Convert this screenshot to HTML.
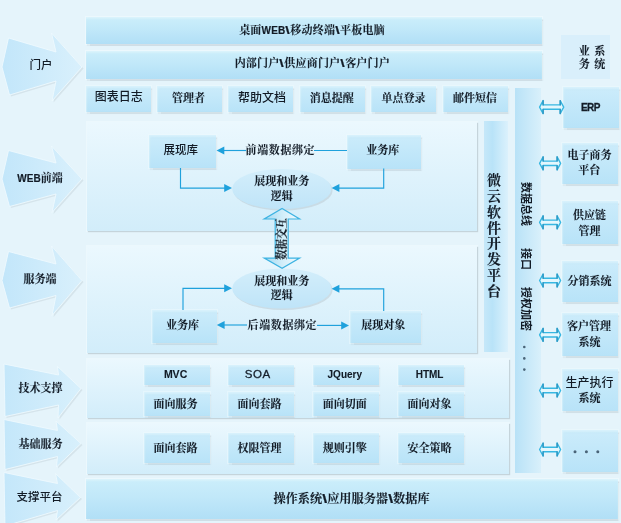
<!DOCTYPE html>
<html lang="zh"><head><meta charset="utf-8"><title>架构图</title><style>
html,body{margin:0;padding:0}
body{width:621px;height:523px;overflow:hidden;position:relative;background:#e5f4fb;
 font-family:"Liberation Serif","Noto Serif CJK SC",serif;font-weight:bold;font-size:11px;color:#121b26;-webkit-text-stroke:.1px #121b26}
.a{position:absolute;box-sizing:border-box}
.bar{background:linear-gradient(#cceefb,#c1e8f9 45%,#b1dff6);box-shadow:1px 1.5px 1px rgba(180,196,204,.45),0 0 0 1px rgba(240,250,254,.7),inset 0 1.5px 1.5px rgba(232,249,254,.6)}
.bx{background:linear-gradient(#ccecfb,#b8e3f8);box-shadow:1px 1.5px 1px rgba(175,192,200,.38),0 0 0 1px rgba(238,249,254,.5),inset 1px 1.5px 1.5px rgba(232,249,254,.5);text-align:center;white-space:nowrap}
.pn{background:linear-gradient(#ebf8fe,#d2edfa);box-shadow:1px 1px 1px rgba(180,196,204,.7),0 0 0 1px rgba(240,250,254,.7)}
.t{position:absolute;white-space:nowrap;text-align:center}
.ls{letter-spacing:.2px}
.b7{font-weight:bold}
.bs{display:inline-block;font-family:"Liberation Sans","Noto Sans CJK SC",sans-serif;font-weight:bold;transform:scaleX(1.45);margin:0 .8px;-webkit-text-stroke:.2px #1c2733}
.s{font-family:"Liberation Sans","Noto Sans CJK SC",sans-serif;font-weight:500;font-size:12px;-webkit-text-stroke:0}
.sb{font-family:"Liberation Sans","Noto Sans CJK SC",sans-serif;font-weight:bold}
svg{position:absolute;left:0;top:0}
#w{position:absolute;left:0;top:0;width:621px;height:523px;will-change:transform}
</style></head><body><div id="w">
<div class="a bar" style="left:85.5px;top:16.5px;width:456.0px;height:27.5px;line-height:27.5px;"></div>
<div class="a bar" style="left:85.5px;top:51px;width:456.0px;height:27.5px;line-height:27.5px;"></div>
<div class="t ls b7" style="left:212px;width:200px;top:20px;height:20px;line-height:20px;">桌面<span class="sb" style="font-size:10px;-webkit-text-stroke:.2px #1c2733">WEB</span><span class="bs">\</span>移动终端<span class="bs">\</span>平板电脑</div>
<div class="t ls b7" style="left:212.3px;width:200px;top:53.2px;height:20px;line-height:20px;">内部门户<span class="bs">\</span>供应商门户<span class="bs">\</span>客户门户</div>
<div class="a bx" style="left:85.7px;top:86.3px;width:64.99999999999999px;height:25.700000000000003px;line-height:25.700000000000003px;text-indent:1.0px;"><span class="s" style="position:relative;top:-1px">图表日志</span></div>
<div class="a bx" style="left:157.1px;top:86.3px;width:65.0px;height:25.700000000000003px;line-height:25.700000000000003px;text-indent:-2px;"><span class="b7" style="position:relative;top:-0.5px">管理者</span></div>
<div class="a bx" style="left:228.4px;top:86.3px;width:64.99999999999997px;height:25.700000000000003px;line-height:25.700000000000003px;text-indent:2px;"><span class="s" style="position:relative;top:0px">帮助文档</span></div>
<div class="a bx" style="left:299.8px;top:86.3px;width:65.0px;height:25.700000000000003px;line-height:25.700000000000003px;text-indent:-1.0px;"><span class="" style="position:relative;top:-0.5px">消息提醒</span></div>
<div class="a bx" style="left:371.1px;top:86.3px;width:65.0px;height:25.700000000000003px;line-height:25.700000000000003px;text-indent:0px;"><span class="" style="position:relative;top:-0.5px">单点登录</span></div>
<div class="a bx" style="left:442.5px;top:86.3px;width:65.0px;height:25.700000000000003px;line-height:25.700000000000003px;text-indent:0px;"><span class="" style="position:relative;top:-0.5px">邮件短信</span></div>
<div class="a pn" style="left:87px;top:122px;width:390px;height:109px;line-height:109px;"></div>
<div class="a pn" style="left:87px;top:246px;width:390px;height:107px;line-height:107px;"></div>
<div class="a a" style="left:484px;top:120.5px;width:24px;height:231.5px;line-height:231.5px;background:linear-gradient(90deg,#c6e8f9,#b9e3f8 35%,#dbf1fc);"></div>
<div class="a a" style="left:514.5px;top:87.5px;width:26.0px;height:385.5px;line-height:385.5px;background:linear-gradient(90deg,#b8e2f7,#d9f0fb);"></div>
<div class="a pn" style="left:87px;top:359px;width:421.5px;height:59px;line-height:59px;"></div>
<div class="a pn" style="left:87px;top:422.5px;width:421.5px;height:51.5px;line-height:51.5px;"></div>
<div class="a bar" style="left:85.5px;top:479.3px;width:532.5px;height:39.69999999999999px;line-height:39.69999999999999px;"></div>
<div class="t b7" style="left:251.5px;width:200px;top:489.3px;height:20px;line-height:20px;font-size:12.2px;">操作系统<span class="bs">\</span>应用服务器<span class="bs">\</span>数据库</div>
<div class="a bx" style="left:148.5px;top:134.5px;width:67.5px;height:33.5px;line-height:33.5px;text-indent:-3px;"><span class="s" style="position:relative;top:-0.5px"><span style="font-size:11.5px">展现库</span></span></div>
<div class="a bx" style="left:347px;top:134.5px;width:73.5px;height:34.0px;line-height:34.0px;text-indent:-2px;"><span class="b7" style="position:relative;top:-1.7px">业务库</span></div>
<div class="a bx" style="left:152px;top:310px;width:64.5px;height:32.5px;line-height:32.5px;text-indent:-3.4px;"><span class="b7" style="position:relative;top:-1.5px">业务库</span></div>
<div class="a bx" style="left:349.5px;top:311px;width:71.0px;height:32px;line-height:32px;text-indent:-3.6px;"><span class="b7" style="position:relative;top:-2px">展现对象</span></div>
<div class="a a" style="left:560.5px;top:34.5px;width:49.0px;height:44.5px;line-height:44.5px;background:#d9effb;"></div>
<div class="t " style="left:492px;width:200px;top:40.7px;height:20px;line-height:20px;">业<span style="margin-left:4.5px">系</span></div>
<div class="t " style="left:492px;width:200px;top:54px;height:20px;line-height:20px;">务<span style="margin-left:4.5px">统</span></div>
<div class="a bx" style="left:563px;top:86.5px;width:56px;height:41.3px;line-height:41.3px;"></div>
<div class="t " style="left:490.4px;width:200px;top:96.9px;height:20px;line-height:20px;"><span class="sb" style="font-size:10px;letter-spacing:-0.6px;-webkit-text-stroke:.3px #1c2733">ERP</span></div>
<div class="a bx" style="left:561.5px;top:143px;width:56.700000000000045px;height:41.400000000000006px;line-height:41.400000000000006px;"></div>
<div class="t " style="left:489.6px;width:200px;top:145.2px;height:20px;line-height:20px;">电子商务</div>
<div class="t " style="left:489.20000000000005px;width:200px;top:160px;height:20px;line-height:20px;">平台</div>
<div class="a bx" style="left:561.5px;top:200.5px;width:56.700000000000045px;height:43.30000000000001px;line-height:43.30000000000001px;"></div>
<div class="t " style="left:489.5px;width:200px;top:205.3px;height:20px;line-height:20px;">供应链</div>
<div class="t " style="left:489.6px;width:200px;top:220.7px;height:20px;line-height:20px;">管理</div>
<div class="a bx" style="left:561.5px;top:261px;width:56.700000000000045px;height:40.69999999999999px;line-height:40.69999999999999px;"></div>
<div class="t " style="left:489.4px;width:200px;top:271.3px;height:20px;line-height:20px;">分销系统</div>
<div class="a bx" style="left:561.5px;top:313.4px;width:56.700000000000045px;height:42.200000000000045px;line-height:42.200000000000045px;"></div>
<div class="t " style="left:489.1px;width:200px;top:316.4px;height:20px;line-height:20px;">客户管理</div>
<div class="t " style="left:489.6px;width:200px;top:331.8px;height:20px;line-height:20px;">系统</div>
<div class="a bx" style="left:561.5px;top:368.8px;width:56.700000000000045px;height:41.80000000000001px;line-height:41.80000000000001px;"></div>
<div class="t s" style="left:489.5px;width:200px;top:372.8px;height:20px;line-height:20px;">生产执行</div>
<div class="t " style="left:489.6px;width:200px;top:388.2px;height:20px;line-height:20px;">系统</div>
<div class="a bx" style="left:561.5px;top:429.8px;width:56.700000000000045px;height:42.19999999999999px;line-height:42.19999999999999px;"></div>
<div class="a bx" style="left:144px;top:364.5px;width:65.5px;height:20.5px;line-height:20.5px;text-indent:-2.4px;"><span class="" style="position:relative;top:-0.3px"><span class="sb" style="font-size:10.5px">MVC</span></span></div>
<div class="a bx" style="left:144px;top:392px;width:65.5px;height:23.80000000000001px;line-height:23.80000000000001px;text-indent:-2.6px;"><span class="" style="position:relative;top:1px">面向服务</span></div>
<div class="a bx" style="left:144px;top:433.3px;width:65.5px;height:29.599999999999966px;line-height:29.599999999999966px;text-indent:-2.6px;"><span class="" style="position:relative;top:0.5px">面向套路</span></div>
<div class="a bx" style="left:228px;top:364.5px;width:65.5px;height:20.5px;line-height:20.5px;text-indent:-6px;"><span class="" style="position:relative;top:-0.3px"><span class="s" style="font-size:11.5px;letter-spacing:.6px;-webkit-text-stroke:.3px #1c2733">SOA</span></span></div>
<div class="a bx" style="left:228px;top:392px;width:65.5px;height:23.80000000000001px;line-height:23.80000000000001px;text-indent:-2.6px;"><span class="" style="position:relative;top:1px">面向套路</span></div>
<div class="a bx" style="left:228px;top:433.3px;width:65.5px;height:29.599999999999966px;line-height:29.599999999999966px;text-indent:-2.6px;"><span class="" style="position:relative;top:0.5px">权限管理</span></div>
<div class="a bx" style="left:313px;top:364.5px;width:66px;height:20.5px;line-height:20.5px;text-indent:-2.4px;"><span class="" style="position:relative;top:-0.3px"><span class="sb" style="font-size:10px">JQuery</span></span></div>
<div class="a bx" style="left:313px;top:392px;width:66px;height:23.80000000000001px;line-height:23.80000000000001px;text-indent:-2.6px;"><span class="" style="position:relative;top:1px">面向切面</span></div>
<div class="a bx" style="left:313px;top:433.3px;width:66px;height:29.599999999999966px;line-height:29.599999999999966px;text-indent:-2.6px;"><span class="" style="position:relative;top:0.5px">规则引擎</span></div>
<div class="a bx" style="left:397.5px;top:364.5px;width:66.5px;height:20.5px;line-height:20.5px;text-indent:-2.4px;"><span class="" style="position:relative;top:-0.3px"><span class="sb" style="font-size:10px">HTML</span></span></div>
<div class="a bx" style="left:397.5px;top:392px;width:66.5px;height:23.80000000000001px;line-height:23.80000000000001px;text-indent:-2.6px;"><span class="" style="position:relative;top:1px">面向对象</span></div>
<div class="a bx" style="left:397.5px;top:433.3px;width:66.5px;height:29.599999999999966px;line-height:29.599999999999966px;text-indent:-2.6px;"><span class="" style="position:relative;top:0.5px">安全策略</span></div>
<svg width="621" height="523" viewBox="0 0 621 523"><defs>
<linearGradient id="g1" x1="0" y1="0" x2="1" y2="0"><stop offset="0" stop-color="#c2e6fa"/><stop offset="1" stop-color="#d9f0fc"/></linearGradient>
<linearGradient id="g2" x1="0" y1="0" x2="1" y2="0"><stop offset="0" stop-color="#c4e7fa"/><stop offset="0.6" stop-color="#d0ecfb"/><stop offset="1" stop-color="#d8f0fc"/></linearGradient>
<linearGradient id="ge" x1="0" y1="0" x2="0" y2="1"><stop offset="0" stop-color="#d3eefb"/><stop offset="1" stop-color="#bfe4f8"/></linearGradient>
<linearGradient id="gv" x1="0" y1="0" x2="1" y2="0"><stop offset="0" stop-color="#a4daf2"/><stop offset="0.55" stop-color="#d4effa"/><stop offset="1" stop-color="#f2fbff"/></linearGradient>
</defs>
<polygon points="10.0,39.5 57.5,53.5 53.0,34.5 83.5,68.5 53.5,102.5 57.5,82.5 11.0,96.5 3.5,68.5" fill="rgba(190,205,212,.4)" stroke="none" stroke-width="1" />
<polygon points="8.5,38 56,52 51.5,33 82,67 52.0,101 56,81 9.5,95 2,67" fill="url(#g1)" stroke="rgba(238,249,254,.85)" stroke-width="1" />
<polygon points="10.0,152.0 57.5,164.5 53.0,147.5 83.5,180.5 53.5,214.0 57.5,195.5 11.0,208.0 3.5,180.5" fill="rgba(190,205,212,.4)" stroke="none" stroke-width="1" />
<polygon points="8.5,150.5 56,163 51.5,146 82,179 52.0,212.5 56,194 9.5,206.5 2,179" fill="url(#g1)" stroke="rgba(238,249,254,.85)" stroke-width="1" />
<polygon points="10.0,253.0 57.5,265.5 53.0,247.5 83.5,282.0 53.5,317.0 57.5,297.0 11.0,309.5 3.5,282.0" fill="rgba(190,205,212,.4)" stroke="none" stroke-width="1" />
<polygon points="8.5,251.5 56,264 51.5,246 82,280.5 52.0,315.5 56,295.5 9.5,308 2,280.5" fill="url(#g1)" stroke="rgba(238,249,254,.85)" stroke-width="1" />
<polygon points="5.5,365.5 60.0,376.5 59.0,368.0 82.5,390.0 59.5,419.5 60.0,406.5 6.5,418.0" fill="rgba(190,205,212,.4)" stroke="none" stroke-width="1" />
<polygon points="4,364 58.5,375 57.5,366.5 81,388.5 58.0,418 58.5,405 5,416.5" fill="url(#g2)" stroke="rgba(238,249,254,.85)" stroke-width="1" />
<polygon points="5.5,421.0 59.0,432.0 57.5,422.5 82.5,445.0 58.0,468.5 59.0,458.0 6.5,471.0" fill="rgba(190,205,212,.4)" stroke="none" stroke-width="1" />
<polygon points="4,419.5 57.5,430.5 56,421 81,443.5 56.5,467 57.5,456.5 5,469.5" fill="url(#g2)" stroke="rgba(238,249,254,.85)" stroke-width="1" />
<polygon points="5.5,474.0 59.0,485.0 57.0,475.0 82.0,499.0 57.5,521.5 59.0,512.0 6.5,527.5" fill="rgba(190,205,212,.4)" stroke="none" stroke-width="1" />
<polygon points="4,472.5 57.5,483.5 55.5,473.5 80.5,497.5 56.0,520 57.5,510.5 5,526" fill="url(#g2)" stroke="rgba(238,249,254,.85)" stroke-width="1" />
<ellipse cx="283" cy="190.5" rx="49.5" ry="20" fill="rgba(185,200,208,.5)"/>
<ellipse cx="281.8" cy="189" rx="49.5" ry="20" fill="url(#ge)"/>
<ellipse cx="283" cy="290" rx="49.5" ry="20" fill="rgba(185,200,208,.5)"/>
<ellipse cx="281.8" cy="288.5" rx="49.5" ry="20" fill="url(#ge)"/>
<polyline points="180.5,168 180.5,188.1 226,188.1" fill="none" stroke="#1fa1dc" stroke-width="1.15"/>
<polygon points="232,188.1 224.2,184.1 224.2,192.1" fill="#1fa1dc" stroke="none" stroke-width="1" />
<polyline points="383.7,168.5 383.7,188.1 338,188.1" fill="none" stroke="#1fa1dc" stroke-width="1.15"/>
<polygon points="331.6,188.1 339.40000000000003,184.1 339.40000000000003,192.1" fill="#1fa1dc" stroke="none" stroke-width="1" />
<polyline points="222,150.5 246,150.5" fill="none" stroke="#1fa1dc" stroke-width="1.15"/>
<polygon points="216.5,150.5 224.3,146.5 224.3,154.5" fill="#1fa1dc" stroke="none" stroke-width="1" />
<polyline points="314,150.5 347,150.5" fill="none" stroke="#1fa1dc" stroke-width="1.15"/>
<polyline points="183,310 183,288.3 226,288.3" fill="none" stroke="#1fa1dc" stroke-width="1.15"/>
<polygon points="232,288.3 224.2,284.3 224.2,292.3" fill="#1fa1dc" stroke="none" stroke-width="1" />
<polyline points="383.7,311 383.7,288.8 338,288.8" fill="none" stroke="#1fa1dc" stroke-width="1.15"/>
<polygon points="331.6,288.8 339.40000000000003,284.8 339.40000000000003,292.8" fill="#1fa1dc" stroke="none" stroke-width="1" />
<polyline points="222,325 247,325" fill="none" stroke="#1fa1dc" stroke-width="1.15"/>
<polygon points="216.8,325 224.60000000000002,321 224.60000000000002,329" fill="#1fa1dc" stroke="none" stroke-width="1" />
<polyline points="317,325.4 343,325.4" fill="none" stroke="#1fa1dc" stroke-width="1.15"/>
<polygon points="349,325.4 341.2,321.4 341.2,329.4" fill="#1fa1dc" stroke="none" stroke-width="1" />
<polygon points="282.1,208.5 299.6,219 288.2,219 288.2,258.1 299.6,258.1 282.1,268.3 264.2,258.1 275.2,258.1 275.2,219 264.2,219" fill="url(#gv)" stroke="#3db3e2" stroke-width="1.2" />
<polygon points="539.6,107.1 543.1,100.6 543.1,104.89999999999999 560.2,104.89999999999999 560.2,100.6 563.7,107.1 560.2,113.6 560.2,109.3 543.1,109.3 543.1,113.6" fill="#e4f7fd" stroke="#37b7e2" stroke-width="1.4" stroke-linejoin="round"/>
<path d="M543.1,100.6 V104.89999999999999 M543.1,109.3 V113.6" stroke="#2b8fbb" stroke-width="1.2" fill="none" stroke-linecap="round"/>
<path d="M560.2,100.6 V104.89999999999999 M560.2,109.3 V113.6" stroke="#2b8fbb" stroke-width="1.2" fill="none" stroke-linecap="round"/>
<polygon points="539.6,163.3 543.1,156.8 543.1,161.10000000000002 557.1,161.10000000000002 557.1,156.8 560.6,163.3 557.1,169.8 557.1,165.5 543.1,165.5 543.1,169.8" fill="#e4f7fd" stroke="#37b7e2" stroke-width="1.4" stroke-linejoin="round"/>
<path d="M543.1,156.8 V161.10000000000002 M543.1,165.5 V169.8" stroke="#2b8fbb" stroke-width="1.2" fill="none" stroke-linecap="round"/>
<path d="M557.1,156.8 V161.10000000000002 M557.1,165.5 V169.8" stroke="#2b8fbb" stroke-width="1.2" fill="none" stroke-linecap="round"/>
<polygon points="539.6,222.3 543.1,215.8 543.1,220.10000000000002 557.1,220.10000000000002 557.1,215.8 560.6,222.3 557.1,228.8 557.1,224.5 543.1,224.5 543.1,228.8" fill="#e4f7fd" stroke="#37b7e2" stroke-width="1.4" stroke-linejoin="round"/>
<path d="M543.1,215.8 V220.10000000000002 M543.1,224.5 V228.8" stroke="#2b8fbb" stroke-width="1.2" fill="none" stroke-linecap="round"/>
<path d="M557.1,215.8 V220.10000000000002 M557.1,224.5 V228.8" stroke="#2b8fbb" stroke-width="1.2" fill="none" stroke-linecap="round"/>
<polygon points="539.6,280.5 543.1,274.0 543.1,278.3 557.1,278.3 557.1,274.0 560.6,280.5 557.1,287.0 557.1,282.7 543.1,282.7 543.1,287.0" fill="#e4f7fd" stroke="#37b7e2" stroke-width="1.4" stroke-linejoin="round"/>
<path d="M543.1,274.0 V278.3 M543.1,282.7 V287.0" stroke="#2b8fbb" stroke-width="1.2" fill="none" stroke-linecap="round"/>
<path d="M557.1,274.0 V278.3 M557.1,282.7 V287.0" stroke="#2b8fbb" stroke-width="1.2" fill="none" stroke-linecap="round"/>
<polygon points="539.6,334.8 543.1,328.3 543.1,332.6 557.1,332.6 557.1,328.3 560.6,334.8 557.1,341.3 557.1,337.0 543.1,337.0 543.1,341.3" fill="#e4f7fd" stroke="#37b7e2" stroke-width="1.4" stroke-linejoin="round"/>
<path d="M543.1,328.3 V332.6 M543.1,337.0 V341.3" stroke="#2b8fbb" stroke-width="1.2" fill="none" stroke-linecap="round"/>
<path d="M557.1,328.3 V332.6 M557.1,337.0 V341.3" stroke="#2b8fbb" stroke-width="1.2" fill="none" stroke-linecap="round"/>
<polygon points="539.6,390.5 543.1,384.0 543.1,388.3 557.1,388.3 557.1,384.0 560.6,390.5 557.1,397.0 557.1,392.7 543.1,392.7 543.1,397.0" fill="#e4f7fd" stroke="#37b7e2" stroke-width="1.4" stroke-linejoin="round"/>
<path d="M543.1,384.0 V388.3 M543.1,392.7 V397.0" stroke="#2b8fbb" stroke-width="1.2" fill="none" stroke-linecap="round"/>
<path d="M557.1,384.0 V388.3 M557.1,392.7 V397.0" stroke="#2b8fbb" stroke-width="1.2" fill="none" stroke-linecap="round"/>
<polygon points="539.6,449.5 543.1,443.0 543.1,447.3 557.1,447.3 557.1,443.0 560.6,449.5 557.1,456.0 557.1,451.7 543.1,451.7 543.1,456.0" fill="#e4f7fd" stroke="#37b7e2" stroke-width="1.4" stroke-linejoin="round"/>
<path d="M543.1,443.0 V447.3 M543.1,451.7 V456.0" stroke="#2b8fbb" stroke-width="1.2" fill="none" stroke-linecap="round"/>
<path d="M557.1,443.0 V447.3 M557.1,451.7 V456.0" stroke="#2b8fbb" stroke-width="1.2" fill="none" stroke-linecap="round"/>
<circle cx="575" cy="451.7" r="1.5" fill="#4a6478"/>
<circle cx="586.4" cy="451.7" r="1.5" fill="#4a6478"/>
<circle cx="597.8" cy="451.7" r="1.5" fill="#4a6478"/>
<circle cx="524.3" cy="347" r="1.3" fill="#4a6478"/>
<circle cx="524.3" cy="358.4" r="1.3" fill="#4a6478"/>
<circle cx="524.3" cy="369.6" r="1.3" fill="#4a6478"/>
</svg>
<div class="t s" style="left:-59px;width:200px;top:55px;height:20px;line-height:20px;font-size:11.5px;">门户</div>
<div class="t " style="left:-60px;width:200px;top:168px;height:20px;line-height:20px;"><span class="sb" style="font-size:10px;-webkit-text-stroke:.2px #1c2733">WEB</span>前端</div>
<div class="t " style="left:-60px;width:200px;top:269px;height:20px;line-height:20px;">服务端</div>
<div class="t " style="left:-59.5px;width:200px;top:378px;height:20px;line-height:20px;">技术支撑</div>
<div class="t " style="left:-59.5px;width:200px;top:433.5px;height:20px;line-height:20px;">基础服务</div>
<div class="t s" style="left:-60.4px;width:200px;top:486.8px;height:20px;line-height:20px;font-size:11.5px;">支撑平台</div>
<div class="t " style="left:180.39999999999998px;width:200px;top:140.3px;height:20px;line-height:20px;letter-spacing:.6px;">前端数据绑定</div>
<div class="t " style="left:182.39999999999998px;width:200px;top:314.8px;height:20px;line-height:20px;letter-spacing:.6px;">后端数据绑定</div>
<div class="t " style="left:181.8px;width:200px;top:170.5px;height:20px;line-height:20px;">展现和业务</div>
<div class="t " style="left:181.8px;width:200px;top:185.7px;height:20px;line-height:20px;">逻辑</div>
<div class="t " style="left:181.8px;width:200px;top:270.5px;height:20px;line-height:20px;">展现和业务</div>
<div class="t " style="left:181.8px;width:200px;top:285px;height:20px;line-height:20px;">逻辑</div>
<div class="t" style="left:231.8px;top:228.5px;width:100px;height:20px;line-height:20px;transform:rotate(-90deg) scaleX(0.87);font-size:12px">数据交互</div>
<div class="t " style="left:394px;width:200px;top:171.3px;height:20px;line-height:20px;font-size:14px;font-weight:700;">微</div>
<div class="t " style="left:394px;width:200px;top:187.05px;height:20px;line-height:20px;font-size:14px;font-weight:700;">云</div>
<div class="t " style="left:394px;width:200px;top:202.8px;height:20px;line-height:20px;font-size:14px;font-weight:700;">软</div>
<div class="t " style="left:394px;width:200px;top:218.55px;height:20px;line-height:20px;font-size:14px;font-weight:700;">件</div>
<div class="t " style="left:394px;width:200px;top:234.3px;height:20px;line-height:20px;font-size:14px;font-weight:700;">开</div>
<div class="t " style="left:394px;width:200px;top:250.05px;height:20px;line-height:20px;font-size:14px;font-weight:700;">发</div>
<div class="t " style="left:394px;width:200px;top:265.8px;height:20px;line-height:20px;font-size:14px;font-weight:700;">平</div>
<div class="t " style="left:394px;width:200px;top:281.55px;height:20px;line-height:20px;font-size:14px;font-weight:700;">台</div>
<div class="t s" style="left:475.79999999999995px;top:194.2px;width:100px;height:20px;line-height:20px;transform:rotate(90deg);font-size:11px;font-weight:700">数据总线</div>
<div class="t s" style="left:475.79999999999995px;top:249px;width:100px;height:20px;line-height:20px;transform:rotate(90deg);font-size:11px;font-weight:700">接口</div>
<div class="t s" style="left:475.79999999999995px;top:299.3px;width:100px;height:20px;line-height:20px;transform:rotate(90deg);font-size:11px;font-weight:700">授权加密</div>
</div></body></html>
